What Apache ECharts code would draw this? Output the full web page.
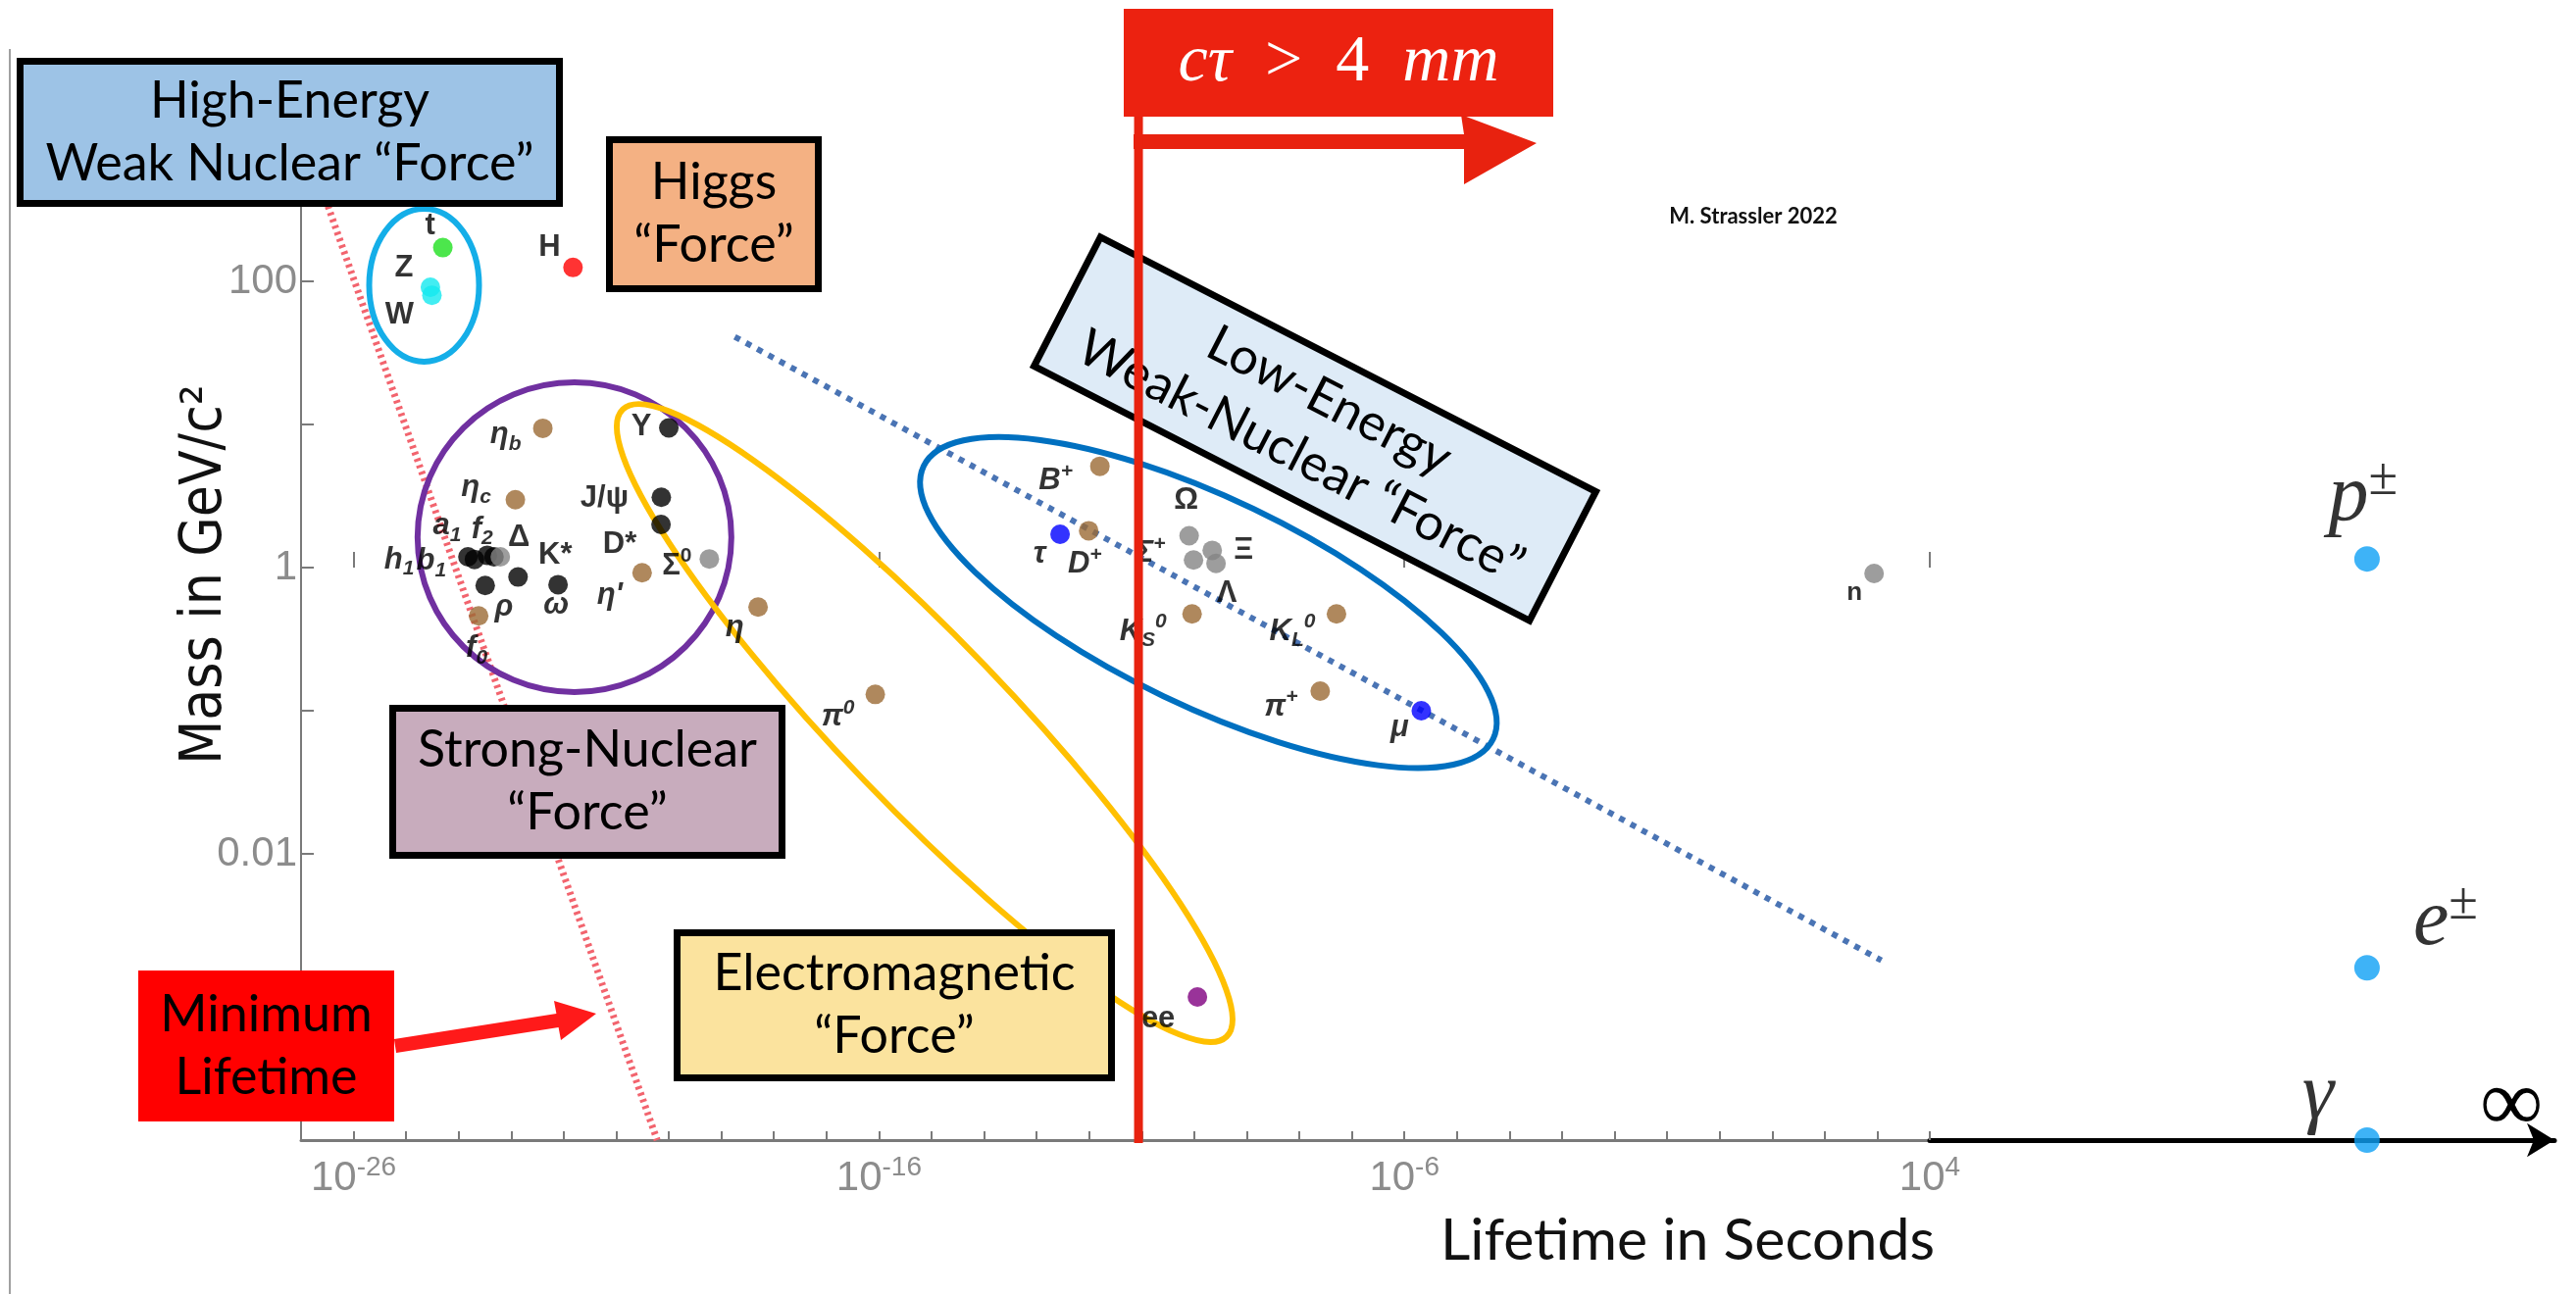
<!DOCTYPE html>
<html>
<head>
<meta charset="utf-8">
<title>Particle lifetimes versus mass</title>
<script src="https://cdn.jsdelivr.net/npm/echarts@6/dist/echarts.min.js"></script>
<style>
html,body{margin:0;padding:0;background:#ffffff;}
#chart{width:2627px;height:1320px;}
</style>
</head>
<body>
<div id="chart"></div>
<script>
// ------------------------------------------------------------------
// DATA
// ------------------------------------------------------------------
const particleNames = ['t','Z','W','H','ηb','Υ','ηc','J/ψ','D*','Σ0',"η'",'η',
  'h1','b1','a1','f2','Δ','K*','ρ','ω','f0','π0','ee','B+','τ','D+','Ω','Σ+','Ξ','Λ',
  'KS0','KL0','π+','μ','n'];
const particleLabels = ['t','Z','W','H','η{s|b}','Υ','η{s|c}','J/ψ','D*','Σ{p|0}',"η'",'η',
  'h{s|1}','b{s|1}','a{s|1}','f{s|2}','Δ','K*','ρ','ω','f{s|0}','π{p|0}','ee','B{p|+}','τ','D{p|+}','Ω','Σ{p|+}','Ξ','Λ',
  'K{s|S}{p|0}','K{s|L}{p|0}','π{p|+}','μ','n'];
const lifetimesSec = [5e-25, 2.9e-25, 3.1e-25, 1.5e-22, 4e-23, 1.0e-20, 1.2e-23, 7.2e-21, 7.1e-21, 5.9e-20, 3.1e-21, 5.0e-19,
  1.5e-24, 2.0e-24, 3.5e-24, 4.7e-24, 6.2e-24, 1.35e-23, 3.2e-24, 7.8e-23, 2.4e-24, 8.5e-17, 1.15e-10, 1.6e-12, 2.8e-13, 9.8e-13,
  8.0e-11, 9.7e-11, 2.2e-10, 2.6e-10, 9.1e-11, 5.1e-8, 2.5e-8, 2.1e-6, 870];
const massesGeV = [172, 91, 80, 125, 9.4, 9.46, 2.98, 3.1, 2.0, 1.15, 0.92, 0.53,
  1.19, 1.14, 1.22, 1.19, 1.19, 0.86, 0.75, 0.76, 0.46, 0.13, 0.001, 5.1, 1.71, 1.81,
  1.67, 1.13, 1.32, 1.07, 0.475, 0.475, 0.137, 0.100, 0.91];
const particleGroup = ['top','boson','boson','higgs','brown','black','brown','black','black','gray','brown','brown',
  'black','black','black','black','gray','black','black','black','brown','brown','pair','brown','lepton','brown',
  'gray','gray','gray','gray','brown','brown','brown','lepton','gray'];

const stableNames = ['p±','e±','γ'];
const stableLabels = ['p{pm|±}','e{pm|±}','γ'];
const stableMassesGeV = [1.15, 0.0016, 0.0001];

const xTickExponents = [-26, -16, -6, 4];
const yTickValues = [100, 1, 0.01];
const yTickLabels = ['100', '1', '0.01'];

// reference lines: [lifetime s, mass GeV]
const minLifetimeLine = [[1.2e-27, 950], [6.0e-21, 1e-4]];
const weakTrendLine = [[1.8e-19, 41], [1.2e3, 1.8e-3]];
const ctauCutLifetime = 8.7e-12;
// centres of the group outlines: [lifetime s, mass GeV]
const outlineCenters = [[2.2e-25, 94], [1.6e-22, 1.63], [7.4e-16, 0.082], [1.86e-10, 0.57]];

// ------------------------------------------------------------------
// STYLE / LAYOUT
// ------------------------------------------------------------------
const L = Math.log10;
const groupColors = {top:'#1fe01f', boson:'#14e8ef', higgs:'#ff0000', brown:'#9b6a35', black:'#000000',
  gray:'#858585', lepton:'#0000ff', pair:'#800080'};
const italicNames = ['ηb','ηc',"η'",'η','h1','b1','a1','f2','ρ','ω','f0','π0','B+','τ','D+','Σ+','KS0','KL0','π+','μ'];
const labelOffset = {
  't':[-13,-22],'Z':[-27,-20],'W':[-33,20],'H':[-24,-20],
  'ηb':[-38,7],'Υ':[-28,-1],'ηc':[-40,-12],'J/ψ':[-58,1],'D*':[-42,20],'Σ0':[-33,7],"η'":[-33,23],'η':[-24,21],
  'h1':[-70,3],'b1':[-44,2],'a1':[-41,-30],'f2':[-12,-28],'Δ':[19,-20],'K*':[38,-22],'ρ':[19,22],'ω':[-2,21],'f0':[-2,33],
  'π0':[-38,23],'ee':[-40,22],'B+':[-45,15],'τ':[-21,20],'D+':[-4,34],'Ω':[-3,-36],'Σ+':[-44,-7],'Ξ':[32,0],'Λ':[11,31],
  'KS0':[-50,18],'KL0':[-45,18],'π+':[-40,16],'μ':[-22,17],'n':[-20,20]
};
const stableLabelOffset = {'p±':[-4,-62], 'e±':[80,-46], 'γ':[-50,-45]};
const outlineShapes = [
  {rx:56, ry:78, angle:0, color:'#14aee8'},
  {rx:160, ry:158, angle:0, color:'#7030a0'},
  {rx:444, ry:85, angle:46.1, color:'#ffc000'},
  {rx:322, ry:106, angle:25.6, color:'#0070c0'}
];
const LABEL_FONT = 'Liberation Sans';
const BOX_FONT = 'Lato';
const NARROW_FONT = 'Liberation Sans Narrow, DejaVu Sans Condensed, Liberation Sans, sans-serif';

function particleRich(italic) {
  const base = {fontFamily: LABEL_FONT, fontWeight: 'bold', fontStyle: italic ? 'italic' : 'normal', color: '#000'};
  return {
    s: Object.assign({}, base, {fontSize: 21, verticalAlign: 'bottom', lineHeight: 20}),
    p: Object.assign({}, base, {fontSize: 21, verticalAlign: 'top', lineHeight: 20})
  };
}

// ------------------------------------------------------------------
// SERIES
// ------------------------------------------------------------------
const series = [];

// group outlines (ellipses) anchored at data coordinates
series.push({
  type: 'custom', name: 'outlines', xAxisIndex: 0, yAxisIndex: 0, z: 3, silent: true, clip: false,
  data: outlineCenters.map(c => [L(c[0]), L(c[1])]),
  renderItem: function (params, api) {
    const o = outlineShapes[params.dataIndex];
    const p = api.coord([api.value(0), api.value(1)]);
    return {
      type: 'ellipse', x: p[0], y: p[1], rotation: -o.angle * Math.PI / 180,
      shape: {cx: 0, cy: 0, rx: o.rx, ry: o.ry},
      style: {fill: 'none', stroke: o.color, lineWidth: 6}
    };
  }
});

// minimum-lifetime dotted line
series.push({
  type: 'line', name: 'Minimum lifetime', xAxisIndex: 0, yAxisIndex: 0, symbol: 'none', silent: true, z: 2,
  data: minLifetimeLine.map(p => [L(p[0]), L(p[1])]),
  lineStyle: {color: '#f2646e', width: 7, type: [3, 4]}
});
// weak decay trend dotted line
series.push({
  type: 'line', name: 'Weak trend', xAxisIndex: 0, yAxisIndex: 0, symbol: 'none', silent: true, z: 2,
  data: weakTrendLine.map(p => [L(p[0]), L(p[1])]),
  lineStyle: {color: '#4a74b4', width: 6, type: [6, 7]}
});
// c tau > 4 mm vertical line
series.push({
  type: 'line', name: 'cτ cut', xAxisIndex: 0, yAxisIndex: 0, symbol: 'none', silent: true, z: 100, clip: false,
  data: [[L(ctauCutLifetime), -4.02], [L(ctauCutLifetime), 3.15]],
  lineStyle: {color: '#e8220f', width: 9}
});

// particles, one scatter series per colour group
Object.keys(groupColors).forEach(function (g) {
  const items = [];
  particleNames.forEach(function (n, i) {
    if (particleGroup[i] !== g) return;
    const it = italicNames.indexOf(n) >= 0;
    items.push({
      name: n,
      value: [L(lifetimesSec[i]), L(massesGeV[i])],
      text: particleLabels[i],
      label: {
        offset: labelOffset[n] || [0, -22],
        fontStyle: it ? 'italic' : 'normal',
        fontSize: n === 'n' ? 26 : 31,
        rich: particleRich(it)
      }
    });
  });
  series.push({
    type: 'scatter', name: g, xAxisIndex: 0, yAxisIndex: 0, z: 5, clip: false,
    symbol: 'circle', symbolSize: 20,
    itemStyle: {color: groupColors[g]},
    label: {
      show: true, position: 'inside', color: '#000', fontFamily: LABEL_FONT, fontWeight: 'bold',
      fontSize: 31, lineHeight: 40, textBorderWidth: 0,
      formatter: function (p) { return p.data.text; }
    },
    emphasis: {disabled: true},
    data: items
  });
});

// stable particles on the "infinite lifetime" axis
series.push({
  type: 'scatter', name: 'stable', xAxisIndex: 1, yAxisIndex: 1, z: 5, clip: false,
  symbol: 'circle', symbolSize: 26,
  itemStyle: {color: '#0ea0f5'},
  label: {
    show: true, position: 'inside', color: '#000', fontFamily: 'Liberation Serif', fontStyle: 'italic',
    fontWeight: 'normal', fontSize: 82, lineHeight: 90, textBorderWidth: 0,
    formatter: function (p) { return p.data.text; },
    rich: {pm: {fontFamily: 'Liberation Serif', fontStyle: 'normal', fontSize: 54, color: '#000', verticalAlign: 'top', lineHeight: 50}}
  },
  emphasis: {disabled: true},
  data: stableNames.map(function (n, i) {
    return {name: n, value: [0.7, L(stableMassesGeV[i])], text: stableLabels[i], label: {offset: stableLabelOffset[n]}};
  })
});

// ------------------------------------------------------------------
// ANNOTATION GRAPHICS
// ------------------------------------------------------------------
const textBoxes = [
  {lines: ['High-Energy', 'Weak Nuclear “Force”'], fill: '#9dc3e6', cx: 295.5, cy: 135, w: 550, h: 145, rot: 0, stroke: true},
  {lines: ['Higgs', '“Force”'], fill: '#f4b183', cx: 728, cy: 218.5, w: 213, h: 152, rot: 0, stroke: true},
  {lines: ['Low-Energy', 'Weak-Nuclear “Force”'], fill: '#deebf7', cx: 1341, cy: 437.5, w: 568, h: 148, rot: 27.2, stroke: true},
  {lines: ['Strong-Nuclear', '“Force”'], fill: '#c8acbd', cx: 599, cy: 797.5, w: 397, h: 150, rot: 0, stroke: true},
  {lines: ['Electromagnetic', '“Force”'], fill: '#fbe39e', cx: 912, cy: 1025.5, w: 443, h: 148, rot: 0, stroke: true},
  {lines: ['Minimum', 'Lifetime'], fill: '#ff0000', cx: 271.5, cy: 1067, w: 261, h: 154, rot: 0, stroke: false}
];
const graphics = [];
graphics.push({type: 'line', z: 1, silent: true, shape: {x1: 10, y1: 50, x2: 10, y2: 1320}, style: {stroke: '#a0a0a0', lineWidth: 2}});
textBoxes.forEach(function (b) {
  graphics.push({
    type: 'group', x: b.cx, y: b.cy, rotation: -b.rot * Math.PI / 180, z: 50, silent: true,
    children: [
      {type: 'rect', z: 50, shape: {x: -b.w / 2, y: -b.h / 2, width: b.w, height: b.h},
        style: {fill: b.fill, stroke: b.stroke ? '#000' : null, lineWidth: b.stroke ? 7 : 0}},
      {type: 'text', z: 51, style: {text: b.lines.join('\n'), x: 0, y: 0, align: 'center', verticalAlign: 'middle',
        fontFamily: BOX_FONT, fontSize: 52, lineHeight: 64, fill: '#000'}}
    ]
  });
});
// arrow from "Minimum Lifetime"
graphics.push({type: 'polygon', z: 52, silent: true,
  shape: {points: [[401.9, 1060.1], [567.4, 1034.1], [565, 1021], [608, 1034], [572, 1061], [569.6, 1047.9], [404.1, 1073.9]]},
  style: {fill: '#ff1a1a'}});
// c tau box + arrow
graphics.push({type: 'rect', z: 50, silent: true, shape: {x: 1146, y: 9, width: 438, height: 110}, style: {fill: '#ec2210'}});
graphics.push({type: 'text', z: 51, silent: true, style: {
  text: '{i|cτ}  >  4  {i|mm}', x: 1365, y: 64, align: 'center', verticalAlign: 'middle',
  fontFamily: 'Liberation Serif', fontSize: 68, fill: '#ffffff',
  rich: {i: {fontFamily: 'Liberation Serif', fontStyle: 'italic', fontSize: 68, fill: '#ffffff', color: '#ffffff'}}}});
graphics.push({type: 'polygon', z: 52, silent: true,
  shape: {points: [[1156, 137], [1493, 137], [1490, 117], [1567, 146], [1493, 188], [1493, 152], [1156, 152]]},
  style: {fill: '#e8220f'}});
// credit
graphics.push({type: 'text', z: 51, silent: true, style: {text: 'M. Strassler 2022', x: 1788, y: 221, align: 'center',
  verticalAlign: 'middle', fontFamily: BOX_FONT, fontWeight: 'bold', fontSize: 22, fill: '#111'}});

// ------------------------------------------------------------------
// OPTION
// ------------------------------------------------------------------
const axisGray = '#7a7a7a';
const option = {
  backgroundColor: '#ffffff',
  animation: false,
  grid: [
    {left: 307, right: 659, top: 141, bottom: 157, outerBoundsMode: 'none'},
    {left: 1968, right: 22, top: 141, bottom: 157, outerBoundsMode: 'none'}
  ],
  xAxis: [
    {
      type: 'value', gridIndex: 0, min: -27, max: 4, interval: 1, position: 'bottom',
      axisLine: {onZero: false, lineStyle: {color: axisGray, width: 3}},
      axisTick: {inside: true, length: 9, lineStyle: {color: axisGray, width: 2}},
      splitLine: {show: false},
      axisLabel: {
        margin: 14, color: '#8c8c8c', fontFamily: 'Liberation Sans', fontSize: 42, lineHeight: 50,
        formatter: function (v) {
          const e = Math.round(v);
          return xTickExponents.indexOf(e) >= 0 ? '10{sup|' + e + '}' : '';
        },
        rich: {sup: {fontFamily: 'Liberation Sans', fontSize: 28, color: '#8c8c8c', verticalAlign: 'top', lineHeight: 24}}
      },
      name: 'Lifetime in Seconds', nameLocation: 'end', nameGap: 5, nameMoveOverlap: false,
      nameTextStyle: {fontFamily: BOX_FONT, fontSize: 59, color: '#111', align: 'right', verticalAlign: 'top', padding: [73, 0, 0, 0]}
    },
    {
      type: 'value', gridIndex: 1, min: 0, max: 1,
      axisLine: {onZero: false, symbol: ['none', 'arrow'], symbolSize: [26, 28], lineStyle: {color: '#000', width: 5}},
      axisTick: {show: false}, axisLabel: {show: false}, splitLine: {show: false},
      name: '∞', nameLocation: 'end', nameGap: -44, nameMoveOverlap: false,
      nameTextStyle: {fontFamily: 'Liberation Serif', fontSize: 90, lineHeight: 68, color: '#000', align: 'center', verticalAlign: 'bottom'}
    },
    {
      type: 'value', gridIndex: 0, min: -27, max: 4, interval: 1, position: 'bottom',
      axisLine: {show: false},
      axisTick: {show: true, inside: true, length: 16, customValues: xTickExponents, lineStyle: {color: axisGray, width: 2}},
      axisLabel: {show: false}, splitLine: {show: false}
    }
  ],
  yAxis: [
    {
      type: 'value', gridIndex: 0, min: -4, max: 3, interval: 1,
      axisLine: {show: true, onZero: false, lineStyle: {color: axisGray, width: 2}},
      axisTick: {show: true, inside: true, length: 13, lineStyle: {color: axisGray, width: 2}},
      splitLine: {show: false},
      axisLabel: {
        margin: 4, color: '#8c8c8c', fontFamily: 'Liberation Sans', fontSize: 42,
        formatter: function (v) {
          for (let i = 0; i < yTickValues.length; i++) {
            if (Math.abs(L(yTickValues[i]) - v) < 1e-6) return yTickLabels[i];
          }
          return '';
        }
      },
      name: 'Mass in GeV/c²', nameLocation: 'middle', nameRotate: 90, nameGap: 68, nameMoveOverlap: false,
      nameTextStyle: {fontFamily: NARROW_FONT, fontSize: 58, color: '#111', padding: [0, 0, 0, 132]}
    },
    {type: 'value', gridIndex: 1, min: -4, max: 3, show: false}
  ],
  series: series,
  graphic: {elements: graphics}
};

const chart = echarts.init(document.getElementById('chart'), null, {renderer: 'canvas', width: 2627, height: 1320});
chart.setOption(option);
</script>
</body>
</html>
